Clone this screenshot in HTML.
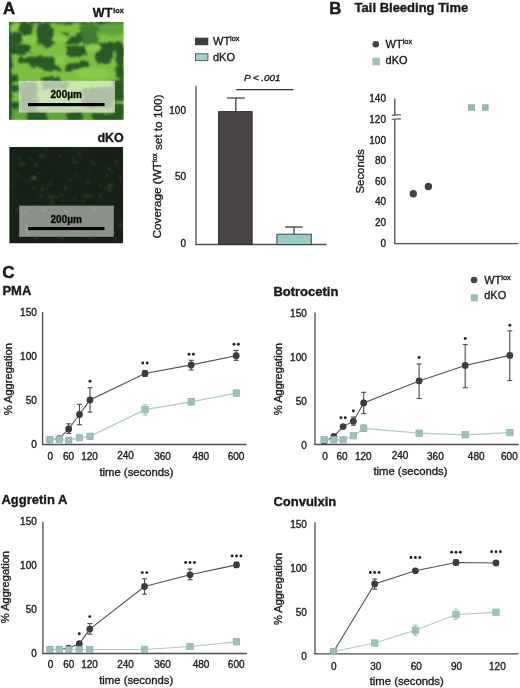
<!DOCTYPE html>
<html><head><meta charset="utf-8"><style>
html,body{margin:0;padding:0;background:#fff;overflow:hidden;width:520px;height:688px;}
svg{display:block;filter:blur(0.35px);}
text{font-family:"Liberation Sans", sans-serif;stroke:#1a1a1a;stroke-width:0.35px;}
</style></head><body>
<svg width="520" height="688" viewBox="0 0 520 688">
<rect width="520" height="688" fill="#fff"/>
<text x="2.9" y="13.6" font-size="16.8" font-weight="bold" text-anchor="start" fill="#1a1a1a" font-style="normal" style="stroke-width:0.45px">A</text>
<text x="112.3" y="16.7" font-size="12.5" font-weight="bold" text-anchor="end" fill="#1a1a1a">WT</text>
<text x="113.3" y="12.7" font-size="7.2" font-weight="bold" fill="#1a1a1a">lox</text>
<text x="123.8" y="142" font-size="12.5" font-weight="bold" text-anchor="end" fill="#1a1a1a" font-style="normal" >dKO</text>
<defs>
<filter id="bl" x="-20%" y="-20%" width="140%" height="140%"><feTurbulence type="fractalNoise" baseFrequency="0.22" numOctaves="2" seed="3" result="n"/><feDisplacementMap in="SourceGraphic" in2="n" scale="6" xChannelSelector="R" yChannelSelector="G" result="d"/><feGaussianBlur in="d" stdDeviation="0.9"/></filter>
<filter id="bl2" x="-20%" y="-20%" width="140%" height="140%"><feGaussianBlur stdDeviation="0.7"/></filter>
<filter id="bl3" x="-20%" y="-20%" width="140%" height="140%"><feGaussianBlur stdDeviation="1.1"/></filter>
<clipPath id="cwt"><rect x="9" y="21.8" width="114.6" height="97.9"/></clipPath>
<clipPath id="cko"><rect x="9.2" y="147" width="114" height="96.5"/></clipPath>
</defs>
<g clip-path="url(#cwt)">
<rect x="9" y="22" width="115" height="98" fill="#7bbf41"/>
<g filter="url(#bl)">
<g fill="#5ea43e">
<polygon points="79,22 124,22 124,35 100,35 79,33"/>
<polygon points="9,108 124,108 124,121 9,121"/>
</g>
<g fill="#2a5828">
<polygon points="7,22 12,22 12,121 7,121"/>
<polygon points="19,22 32,22 33,30 30,36 24,35 19,30"/>
<polygon points="10,32 18,31 23,35 22,43 14,44 10,42"/>
<polygon points="38,25 45,23 51,25 54,32 55,40 52,47 46,48 40,45 37,38 37,30"/>
<polygon points="9,44 20,44 31,45 31,52 24,55 15,55 9,54"/>
<polygon points="63,32 68,32 68,40 63,40"/>
<polygon points="66,40 74,36 84,31 87,35 86,43 76,44 68,44"/>
<polygon points="66,47 86,46 86,55 75,57 66,56"/>
<polygon points="96,42 124,42 124,51 98,51"/>
<polygon points="28,58 40,56 56,58 57,64 50,68 38,68 29,65"/>
<polygon points="66,65 75,63 88,61 88,66 78,69 66,71"/>
<polygon points="95,50 113,50 113,58 108,64 100,64 95,58"/>
<polygon points="116,50 124,50 124,80 117,78"/>
<polygon points="18,57 30,58 31,63 20,63"/>
<polygon points="42,65 60,66 62,71 44,71"/>
<polygon points="9,74 18,74 18,81 9,81"/>
<polygon points="9,85 19,85 19,91 9,91"/>
<polygon points="9,101 19,101 19,109 9,109"/>
<polygon points="112,80 124,80 124,101 112,101"/>
<polygon points="114,104 124,104 124,114 114,114"/>
<polygon points="27,112 47,112 47,122 27,122"/>
<polygon points="67,112 82,112 82,122 67,122"/>
<polygon points="92,113 124,114 124,122 92,122"/>
<polygon points="20,82 37,82 38,112 20,112"/>
<polygon points="42,82 68,82 68,89 42,89"/>
<polygon points="82,88 113,88 113,108 82,108"/>
<polygon points="42,77 60,77 60,81 42,81"/>
<polygon points="9,22 124,22 124,24 9,24"/>
</g>
<g fill="#3f7d35"><polygon points="80,26 92,25 99,28 99,38 96,44 88,44 82,40"/></g>
<g fill="#86cc4a">
<ellipse cx="15" cy="27" rx="4" ry="4"/>
<ellipse cx="30" cy="39" rx="7" ry="4"/>
<ellipse cx="60" cy="39" rx="8" ry="4"/>
<ellipse cx="94" cy="48" rx="7" ry="4"/>
<ellipse cx="60" cy="61" rx="5" ry="6"/>
<ellipse cx="92" cy="74" rx="18" ry="6"/>
</g>
</g>
<rect x="18.8" y="80.8" width="96.2" height="31.8" fill="#f8fbf0" fill-opacity="0.64"/>
</g>

<g clip-path="url(#cko)">
<rect x="9.2" y="147" width="114" height="96.5" fill="#172017"/>
<g filter="url(#bl3)" fill="#3a7a3a">
<circle cx="46.9" cy="187.5" r="0.9" fill-opacity="0.44"/>
<circle cx="51.6" cy="180.4" r="0.8" fill-opacity="0.40"/>
<circle cx="18.8" cy="176.2" r="1.5" fill-opacity="0.29"/>
<circle cx="35.8" cy="238.0" r="1.3" fill-opacity="0.39"/>
<circle cx="119.4" cy="197.9" r="1.0" fill-opacity="0.30"/>
<circle cx="24.1" cy="195.8" r="0.9" fill-opacity="0.45"/>
<circle cx="81.9" cy="182.4" r="0.9" fill-opacity="0.27"/>
<circle cx="33.9" cy="188.6" r="1.1" fill-opacity="0.45"/>
<circle cx="61.3" cy="194.7" r="1.4" fill-opacity="0.34"/>
<circle cx="74.8" cy="198.8" r="1.4" fill-opacity="0.35"/>
<circle cx="119.8" cy="175.9" r="1.4" fill-opacity="0.30"/>
<circle cx="65.3" cy="188.4" r="1.4" fill-opacity="0.45"/>
<circle cx="108.2" cy="189.8" r="1.3" fill-opacity="0.45"/>
<circle cx="61.6" cy="237.7" r="1.2" fill-opacity="0.48"/>
<circle cx="17.7" cy="209.5" r="1.6" fill-opacity="0.54"/>
<circle cx="42.6" cy="188.4" r="0.8" fill-opacity="0.41"/>
<circle cx="29.7" cy="157.9" r="1.4" fill-opacity="0.30"/>
<circle cx="38.5" cy="198.6" r="0.9" fill-opacity="0.41"/>
<circle cx="106.9" cy="175.8" r="1.1" fill-opacity="0.56"/>
<circle cx="117.3" cy="163.8" r="1.0" fill-opacity="0.33"/>
<circle cx="64.8" cy="168.1" r="0.8" fill-opacity="0.40"/>
<circle cx="52.0" cy="202.7" r="1.4" fill-opacity="0.43"/>
<circle cx="79.6" cy="153.1" r="1.5" fill-opacity="0.52"/>
<circle cx="108.1" cy="185.3" r="1.1" fill-opacity="0.29"/>
<circle cx="81.4" cy="158.4" r="1.0" fill-opacity="0.31"/>
<circle cx="48.7" cy="155.0" r="0.9" fill-opacity="0.29"/>
<circle cx="51.4" cy="198.7" r="1.3" fill-opacity="0.30"/>
<circle cx="39.0" cy="173.2" r="0.9" fill-opacity="0.55"/>
<circle cx="121.2" cy="179.2" r="0.9" fill-opacity="0.29"/>
<circle cx="49.0" cy="196.4" r="0.9" fill-opacity="0.26"/>
<circle cx="116.6" cy="162.3" r="1.2" fill-opacity="0.26"/>
<circle cx="88.3" cy="173.3" r="0.9" fill-opacity="0.52"/>
<circle cx="70.1" cy="179.3" r="1.0" fill-opacity="0.53"/>
<circle cx="120.3" cy="224.6" r="1.5" fill-opacity="0.51"/>
<circle cx="36.2" cy="172.8" r="0.8" fill-opacity="0.26"/>
<circle cx="42.0" cy="189.6" r="1.6" fill-opacity="0.41"/>
<circle cx="115.0" cy="238.7" r="1.1" fill-opacity="0.33"/>
<circle cx="36.2" cy="165.2" r="1.3" fill-opacity="0.57"/>
<circle cx="104.3" cy="187.6" r="1.4" fill-opacity="0.28"/>
<circle cx="94.3" cy="163.9" r="1.4" fill-opacity="0.37"/>
<circle cx="99.9" cy="185.6" r="1.1" fill-opacity="0.58"/>
<circle cx="91.5" cy="161.4" r="0.9" fill-opacity="0.57"/>
<circle cx="100.5" cy="196.3" r="1.6" fill-opacity="0.48"/>
<circle cx="49.9" cy="161.5" r="0.8" fill-opacity="0.59"/>
<circle cx="83.1" cy="201.7" r="1.1" fill-opacity="0.56"/>
<circle cx="102.7" cy="167.6" r="1.0" fill-opacity="0.33"/>
<circle cx="76.1" cy="176.0" r="0.9" fill-opacity="0.57"/>
<circle cx="50.3" cy="184.2" r="1.5" fill-opacity="0.40"/>
<circle cx="112.9" cy="181.6" r="1.2" fill-opacity="0.26"/>
<circle cx="59.9" cy="155.2" r="1.4" fill-opacity="0.31"/>
<circle cx="63.6" cy="200.9" r="1.1" fill-opacity="0.43"/>
<circle cx="72.7" cy="158.1" r="1.2" fill-opacity="0.34"/>
<circle cx="41.7" cy="196.2" r="1.2" fill-opacity="0.52"/>
<circle cx="112.3" cy="185.6" r="1.2" fill-opacity="0.43"/>
<circle cx="87.9" cy="181.7" r="1.2" fill-opacity="0.58"/>
<circle cx="88.6" cy="237.5" r="1.0" fill-opacity="0.45"/>
<circle cx="115.7" cy="161.0" r="0.9" fill-opacity="0.40"/>
<circle cx="19.1" cy="158.7" r="1.3" fill-opacity="0.52"/>
<circle cx="110.6" cy="190.8" r="1.3" fill-opacity="0.30"/>
<circle cx="109.0" cy="168.9" r="1.6" fill-opacity="0.39"/>
<circle cx="28.9" cy="180.8" r="1.1" fill-opacity="0.32"/>
<circle cx="46.4" cy="149.9" r="1.2" fill-opacity="0.40"/>
<circle cx="13.0" cy="186.2" r="1.2" fill-opacity="0.27"/>
<circle cx="120.3" cy="240.3" r="0.9" fill-opacity="0.34"/>
<circle cx="15.4" cy="173.7" r="0.9" fill-opacity="0.40"/>
<circle cx="112.2" cy="172.6" r="0.9" fill-opacity="0.57"/>
<ellipse cx="34" cy="178" rx="2.6" ry="2.0" fill-opacity="0.7"/><ellipse cx="22" cy="164" rx="4" ry="1.4" fill-opacity="0.35"/><ellipse cx="42" cy="156" rx="3.5" ry="1.3" fill-opacity="0.35"/><ellipse cx="88" cy="196" rx="5" ry="1.4" fill-opacity="0.35"/><ellipse cx="52" cy="197" rx="6" ry="1.3" fill-opacity="0.3"/><ellipse cx="110" cy="186" rx="2.5" ry="1.8" fill-opacity="0.4"/><ellipse cx="75" cy="162" rx="3" ry="1.2" fill-opacity="0.3"/>
</g>
<rect x="19.2" y="205.6" width="94.6" height="31.2" fill="#ffffff" fill-opacity="0.5"/>
<g filter="url(#bl3)" fill="#ffffff" fill-opacity="0.15">
<circle cx="72.9" cy="226.6" r="1.1"/><circle cx="26.2" cy="226.3" r="1.4"/><circle cx="27.6" cy="233.3" r="1.6"/><circle cx="93.9" cy="209.3" r="1.9"/><circle cx="27.1" cy="231.2" r="1.5"/><circle cx="51.9" cy="222.5" r="1.9"/><circle cx="45.4" cy="210.6" r="1.5"/><circle cx="42.7" cy="210.1" r="1.2"/><circle cx="25.6" cy="212.6" r="1.3"/><circle cx="48.8" cy="228.3" r="1.3"/><circle cx="66.5" cy="212.0" r="1.3"/><circle cx="22.7" cy="214.0" r="1.0"/>
</g>
</g>

<rect x="28" y="103" width="76.6" height="3.2" fill="#000"/>
<text x="66.2" y="98" font-size="10" font-weight="bold" text-anchor="middle" fill="#000">200µm</text>
<rect x="28.2" y="227" width="76.3" height="3.1" fill="#000"/>
<text x="66.2" y="223" font-size="10" font-weight="bold" text-anchor="middle" fill="#000">200µm</text>
<rect x="195.5" y="38.1" width="12.4" height="6.7" fill="#403c3c" stroke="#2b2b2b" stroke-width="0.8"/>
<text x="213" y="44.8" font-size="11" fill="#1a1a1a">WT<tspan font-size="7.3" dy="-4.0">lox</tspan></text>
<rect x="195.5" y="53.8" width="12.4" height="6.8" fill="#a3cfcd" stroke="#3d5a59" stroke-width="0.9"/>
<text x="213" y="60.8" font-size="11" font-weight="normal" text-anchor="start" fill="#1a1a1a" font-style="normal" >dKO</text>
<text x="244.0" y="81.4" font-size="9.8" font-weight="normal" text-anchor="start" fill="#1a1a1a" font-style="italic" >P &lt; .001</text>
<line x1="236.3" y1="89.6" x2="293.5" y2="89.6" stroke="#333" stroke-width="1.1"/>
<line x1="196" y1="86" x2="196" y2="245" stroke="#4d4d4d" stroke-width="1.3"/>
<line x1="195.4" y1="244.5" x2="326.5" y2="244.5" stroke="#4d4d4d" stroke-width="1.3"/>
<text x="186" y="113.6" font-size="10" font-weight="normal" text-anchor="end" fill="#1a1a1a" font-style="normal" >100</text>
<text x="186" y="180.4" font-size="10" font-weight="normal" text-anchor="end" fill="#1a1a1a" font-style="normal" >50</text>
<text x="186" y="247.29999999999998" font-size="10" font-weight="normal" text-anchor="end" fill="#1a1a1a" font-style="normal" >0</text>
<rect x="218.6" y="111.6" width="33.6" height="132.9" fill="#4a4545" stroke="#2a2a2a" stroke-width="0.9"/>
<line x1="235.8" y1="98" x2="235.8" y2="111.6" stroke="#333" stroke-width="1.2"/>
<line x1="226.70000000000002" y1="98" x2="244.9" y2="98" stroke="#333" stroke-width="1.2"/>
<rect x="276.9" y="234.2" width="34.4" height="10.3" fill="#9ccac8" stroke="#2f4a49" stroke-width="1"/>
<line x1="294" y1="227" x2="294" y2="234.2" stroke="#333" stroke-width="1.2"/>
<line x1="285.15" y1="227" x2="302.85" y2="227" stroke="#333" stroke-width="1.2"/>
<text x="0" y="0" font-size="11.75" text-anchor="middle" fill="#1a1a1a" transform="translate(156.6,166.5) rotate(-90)" dominant-baseline="central">Coverage (WT<tspan font-size="6.8" dy="-2.3">lox</tspan><tspan dy="2.3"> set to 100)</tspan></text>
<text x="329.3" y="13.6" font-size="16.8" font-weight="bold" text-anchor="start" fill="#1a1a1a" font-style="normal" style="stroke-width:0.45px">B</text>
<text x="354.6" y="11.9" font-size="13" font-weight="bold" text-anchor="start" fill="#1a1a1a" font-style="normal" >Tail Bleeding Time</text>
<circle cx="375.8" cy="44.2" r="3.3" fill="#444"/>
<text x="385.6" y="47.7" font-size="11" fill="#1a1a1a">WT<tspan font-size="7.3" dy="-4.0">lox</tspan></text>
<rect x="372.40" y="57.80" width="7.4" height="7.4" fill="#9bbfbe"/>
<text x="385.6" y="63.6" font-size="11" font-weight="normal" text-anchor="start" fill="#1a1a1a" font-style="normal" >dKO</text>
<line x1="394.8" y1="98.5" x2="394.8" y2="115.3" stroke="#4d4d4d" stroke-width="1.3"/>
<line x1="394.8" y1="118.9" x2="394.8" y2="244" stroke="#4d4d4d" stroke-width="1.3"/>
<line x1="391.8" y1="115.1" x2="401" y2="114.7" stroke="#4d4d4d" stroke-width="1.1"/>
<line x1="391.8" y1="119.3" x2="401" y2="118.9" stroke="#4d4d4d" stroke-width="1.1"/>
<line x1="394.2" y1="243.6" x2="518.3" y2="243.6" stroke="#4d4d4d" stroke-width="1.3"/>
<text x="386" y="246.6" font-size="10" font-weight="normal" text-anchor="end" fill="#1a1a1a" font-style="normal" >0</text>
<text x="386" y="226.0" font-size="10" font-weight="normal" text-anchor="end" fill="#1a1a1a" font-style="normal" >20</text>
<text x="386" y="205.4" font-size="10" font-weight="normal" text-anchor="end" fill="#1a1a1a" font-style="normal" >40</text>
<text x="386" y="184.8" font-size="10" font-weight="normal" text-anchor="end" fill="#1a1a1a" font-style="normal" >60</text>
<text x="386" y="164.2" font-size="10" font-weight="normal" text-anchor="end" fill="#1a1a1a" font-style="normal" >80</text>
<text x="386" y="143.6" font-size="10" font-weight="normal" text-anchor="end" fill="#1a1a1a" font-style="normal" >100</text>
<text x="386" y="123.0" font-size="10" font-weight="normal" text-anchor="end" fill="#1a1a1a" font-style="normal" >120</text>
<text x="386" y="102.4" font-size="10" font-weight="normal" text-anchor="end" fill="#1a1a1a" font-style="normal" >140</text>
<text x="0" y="0" font-size="11.4" text-anchor="middle" fill="#1a1a1a" transform="translate(359.8,171.4) rotate(-90)" dominant-baseline="central">Seconds</text>
<circle cx="413.3" cy="193.75" r="3.7" fill="#424242"/>
<circle cx="428.4" cy="186.5" r="3.7" fill="#424242"/>
<rect x="467.9" y="104.2" width="7.1" height="6.7" fill="#93bab9"/>
<rect x="481.9" y="104.2" width="6.8" height="6.7" fill="#93bab9"/>
<text x="2.3" y="278.0" font-size="17.2" font-weight="bold" text-anchor="start" fill="#1a1a1a" font-style="normal" style="stroke-width:0.45px">C</text>
<text x="2.4" y="295.4" font-size="13" font-weight="bold" text-anchor="start" fill="#1a1a1a" font-style="normal" >PMA</text>
<circle cx="474.1" cy="280" r="3.3" fill="#444"/>
<text x="484.2" y="283.7" font-size="11" fill="#1a1a1a">WT<tspan font-size="7.3" dy="-4.0">lox</tspan></text>
<rect x="470.80" y="294.30" width="7" height="7" fill="#9bbfbe"/>
<text x="484.2" y="299.4" font-size="11" font-weight="normal" text-anchor="start" fill="#1a1a1a" font-style="normal" >dKO</text>
<line x1="42.6" y1="312" x2="42.6" y2="445.1" stroke="#4d4d4d" stroke-width="1.3"/>
<line x1="42.0" y1="444.5" x2="246.5" y2="444.5" stroke="#4d4d4d" stroke-width="1.3"/>
<text x="36.8" y="448.1" font-size="10" font-weight="normal" text-anchor="end" fill="#1a1a1a" font-style="normal" >0</text>
<text x="36.8" y="404.1" font-size="10" font-weight="normal" text-anchor="end" fill="#1a1a1a" font-style="normal" >50</text>
<text x="36.8" y="360.1" font-size="10" font-weight="normal" text-anchor="end" fill="#1a1a1a" font-style="normal" >100</text>
<text x="36.8" y="316.1" font-size="10" font-weight="normal" text-anchor="end" fill="#1a1a1a" font-style="normal" >150</text>
<text x="50.3" y="459.9" font-size="10" font-weight="normal" text-anchor="middle" fill="#1a1a1a" font-style="normal" >0</text>
<text x="68.6" y="459.9" font-size="10" font-weight="normal" text-anchor="middle" fill="#1a1a1a" font-style="normal" >60</text>
<text x="89.5" y="459.9" font-size="10" font-weight="normal" text-anchor="middle" fill="#1a1a1a" font-style="normal" >120</text>
<text x="125.5" y="459.3" font-size="10" font-weight="normal" text-anchor="middle" fill="#1a1a1a" font-style="normal" >240</text>
<text x="162.5" y="459.9" font-size="10" font-weight="normal" text-anchor="middle" fill="#1a1a1a" font-style="normal" >360</text>
<text x="200.8" y="459.9" font-size="10" font-weight="normal" text-anchor="middle" fill="#1a1a1a" font-style="normal" >480</text>
<text x="236.0" y="459.9" font-size="10" font-weight="normal" text-anchor="middle" fill="#1a1a1a" font-style="normal" >600</text>
<text x="99.4" y="475.5" font-size="11.3" font-weight="normal" text-anchor="start" fill="#1a1a1a" font-style="normal" >time (seconds)</text>
<text x="0" y="0" font-size="11.1" text-anchor="middle" fill="#1a1a1a" transform="translate(7.8,379.2) rotate(-90)" dominant-baseline="central">% Aggregation</text>
<polyline points="49.9,439.8 59.2,438.6 68.7,429 79.5,414.5 90,400 145,373.5 191.2,364.9 236.2,355.7" fill="none" stroke="#505050" stroke-width="1.1"/>
<line x1="68.7" y1="423.8" x2="68.7" y2="433.4" stroke="#4a4a4a" stroke-width="1.1"/>
<line x1="66.2" y1="423.8" x2="71.2" y2="423.8" stroke="#4a4a4a" stroke-width="1.1"/>
<line x1="66.2" y1="433.4" x2="71.2" y2="433.4" stroke="#4a4a4a" stroke-width="1.1"/>
<line x1="79.5" y1="404.3" x2="79.5" y2="424.7" stroke="#4a4a4a" stroke-width="1.1"/>
<line x1="77.0" y1="404.3" x2="82.0" y2="404.3" stroke="#4a4a4a" stroke-width="1.1"/>
<line x1="77.0" y1="424.7" x2="82.0" y2="424.7" stroke="#4a4a4a" stroke-width="1.1"/>
<line x1="90" y1="387.7" x2="90" y2="412.1" stroke="#4a4a4a" stroke-width="1.1"/>
<line x1="87.5" y1="387.7" x2="92.5" y2="387.7" stroke="#4a4a4a" stroke-width="1.1"/>
<line x1="87.5" y1="412.1" x2="92.5" y2="412.1" stroke="#4a4a4a" stroke-width="1.1"/>
<line x1="145" y1="370.5" x2="145" y2="376.5" stroke="#4a4a4a" stroke-width="1.1"/>
<line x1="142.5" y1="370.5" x2="147.5" y2="370.5" stroke="#4a4a4a" stroke-width="1.1"/>
<line x1="142.5" y1="376.5" x2="147.5" y2="376.5" stroke="#4a4a4a" stroke-width="1.1"/>
<line x1="191.2" y1="360.3" x2="191.2" y2="370" stroke="#4a4a4a" stroke-width="1.1"/>
<line x1="188.7" y1="360.3" x2="193.7" y2="360.3" stroke="#4a4a4a" stroke-width="1.1"/>
<line x1="188.7" y1="370" x2="193.7" y2="370" stroke="#4a4a4a" stroke-width="1.1"/>
<line x1="236.2" y1="350.4" x2="236.2" y2="360.3" stroke="#4a4a4a" stroke-width="1.1"/>
<line x1="233.7" y1="350.4" x2="238.7" y2="350.4" stroke="#4a4a4a" stroke-width="1.1"/>
<line x1="233.7" y1="360.3" x2="238.7" y2="360.3" stroke="#4a4a4a" stroke-width="1.1"/>
<circle cx="49.9" cy="439.8" r="3.4" fill="#3c3c3c"/>
<circle cx="59.2" cy="438.6" r="3.4" fill="#3c3c3c"/>
<circle cx="68.7" cy="429" r="3.4" fill="#3c3c3c"/>
<circle cx="79.5" cy="414.5" r="3.4" fill="#3c3c3c"/>
<circle cx="90" cy="400" r="3.4" fill="#3c3c3c"/>
<circle cx="145" cy="373.5" r="3.4" fill="#3c3c3c"/>
<circle cx="191.2" cy="364.9" r="3.4" fill="#3c3c3c"/>
<circle cx="236.2" cy="355.7" r="3.4" fill="#3c3c3c"/>
<polyline points="49.9,439.5 59.2,439.4 68.7,440.3 79.5,437.7 90,436.3 145,409.7 191.2,401.8 236.4,393.1" fill="none" stroke="#aecbc7" stroke-width="1.2"/>
<line x1="145" y1="404.6" x2="145" y2="415" stroke="#a5c6c3" stroke-width="1.1"/>
<line x1="142.75" y1="404.6" x2="147.25" y2="404.6" stroke="#a5c6c3" stroke-width="1.1"/>
<line x1="142.75" y1="415" x2="147.25" y2="415" stroke="#a5c6c3" stroke-width="1.1"/>
<line x1="191.2" y1="398.5" x2="191.2" y2="405" stroke="#a5c6c3" stroke-width="1.1"/>
<line x1="188.95" y1="398.5" x2="193.45" y2="398.5" stroke="#a5c6c3" stroke-width="1.1"/>
<line x1="188.95" y1="405" x2="193.45" y2="405" stroke="#a5c6c3" stroke-width="1.1"/>
<line x1="236.4" y1="390" x2="236.4" y2="396" stroke="#a5c6c3" stroke-width="1.1"/>
<line x1="234.15" y1="390" x2="238.65" y2="390" stroke="#a5c6c3" stroke-width="1.1"/>
<line x1="234.15" y1="396" x2="238.65" y2="396" stroke="#a5c6c3" stroke-width="1.1"/>
<rect x="46.70" y="436.30" width="6.4" height="6.4" fill="#9dc0bd" stroke="#8db2af" stroke-width="0.7"/>
<rect x="56.00" y="436.20" width="6.4" height="6.4" fill="#9dc0bd" stroke="#8db2af" stroke-width="0.7"/>
<rect x="65.50" y="437.10" width="6.4" height="6.4" fill="#9dc0bd" stroke="#8db2af" stroke-width="0.7"/>
<rect x="76.30" y="434.50" width="6.4" height="6.4" fill="#9dc0bd" stroke="#8db2af" stroke-width="0.7"/>
<rect x="86.80" y="433.10" width="6.4" height="6.4" fill="#9dc0bd" stroke="#8db2af" stroke-width="0.7"/>
<rect x="141.80" y="406.50" width="6.4" height="6.4" fill="#9dc0bd" stroke="#8db2af" stroke-width="0.7"/>
<rect x="188.00" y="398.60" width="6.4" height="6.4" fill="#9dc0bd" stroke="#8db2af" stroke-width="0.7"/>
<rect x="233.20" y="389.90" width="6.4" height="6.4" fill="#9dc0bd" stroke="#8db2af" stroke-width="0.7"/>
<circle cx="90.00" cy="381.3" r="1.45" fill="#222"/>
<circle cx="142.80" cy="363" r="1.45" fill="#222"/>
<circle cx="147.20" cy="363" r="1.45" fill="#222"/>
<circle cx="189.00" cy="354.3" r="1.45" fill="#222"/>
<circle cx="193.40" cy="354.3" r="1.45" fill="#222"/>
<circle cx="234.00" cy="344.2" r="1.45" fill="#222"/>
<circle cx="238.40" cy="344.2" r="1.45" fill="#222"/>
<text x="273.4" y="295.6" font-size="13" font-weight="bold" text-anchor="start" fill="#1a1a1a" font-style="normal" >Botrocetin</text>
<line x1="315" y1="312.5" x2="315" y2="445.1" stroke="#4d4d4d" stroke-width="1.3"/>
<line x1="314.4" y1="444.5" x2="518.6" y2="444.5" stroke="#4d4d4d" stroke-width="1.3"/>
<text x="306.8" y="449.0" font-size="10" font-weight="normal" text-anchor="end" fill="#1a1a1a" font-style="normal" >0</text>
<text x="306.8" y="405.0" font-size="10" font-weight="normal" text-anchor="end" fill="#1a1a1a" font-style="normal" >50</text>
<text x="306.8" y="361.0" font-size="10" font-weight="normal" text-anchor="end" fill="#1a1a1a" font-style="normal" >100</text>
<text x="306.8" y="317.0" font-size="10" font-weight="normal" text-anchor="end" fill="#1a1a1a" font-style="normal" >150</text>
<text x="325.0" y="459.9" font-size="10" font-weight="normal" text-anchor="middle" fill="#1a1a1a" font-style="normal" >0</text>
<text x="342" y="459.9" font-size="10" font-weight="normal" text-anchor="middle" fill="#1a1a1a" font-style="normal" >60</text>
<text x="363.3" y="459.9" font-size="10" font-weight="normal" text-anchor="middle" fill="#1a1a1a" font-style="normal" >120</text>
<text x="400.0" y="459.1" font-size="10" font-weight="normal" text-anchor="middle" fill="#1a1a1a" font-style="normal" >240</text>
<text x="435.4" y="459.9" font-size="10" font-weight="normal" text-anchor="middle" fill="#1a1a1a" font-style="normal" >360</text>
<text x="476.2" y="459.9" font-size="10" font-weight="normal" text-anchor="middle" fill="#1a1a1a" font-style="normal" >480</text>
<text x="509.4" y="459.9" font-size="10" font-weight="normal" text-anchor="middle" fill="#1a1a1a" font-style="normal" >600</text>
<text x="373.4" y="475.1" font-size="11.3" font-weight="normal" text-anchor="start" fill="#1a1a1a" font-style="normal" >time (seconds)</text>
<text x="0" y="0" font-size="11.1" text-anchor="middle" fill="#1a1a1a" transform="translate(278.4,379.1) rotate(-90)" dominant-baseline="central">% Aggregation</text>
<polyline points="324.2,441.5 333.8,436.5 343.1,426.6 353.4,421.2 363.7,402.9 419.1,380.9 465.2,365.5 509.8,355.4" fill="none" stroke="#505050" stroke-width="1.1"/>
<line x1="353.4" y1="417" x2="353.4" y2="425.2" stroke="#4a4a4a" stroke-width="1.1"/>
<line x1="350.9" y1="417" x2="355.9" y2="417" stroke="#4a4a4a" stroke-width="1.1"/>
<line x1="350.9" y1="425.2" x2="355.9" y2="425.2" stroke="#4a4a4a" stroke-width="1.1"/>
<line x1="363.7" y1="392.3" x2="363.7" y2="413.6" stroke="#4a4a4a" stroke-width="1.1"/>
<line x1="361.2" y1="392.3" x2="366.2" y2="392.3" stroke="#4a4a4a" stroke-width="1.1"/>
<line x1="361.2" y1="413.6" x2="366.2" y2="413.6" stroke="#4a4a4a" stroke-width="1.1"/>
<line x1="419.1" y1="364" x2="419.1" y2="398.5" stroke="#4a4a4a" stroke-width="1.1"/>
<line x1="416.6" y1="364" x2="421.6" y2="364" stroke="#4a4a4a" stroke-width="1.1"/>
<line x1="416.6" y1="398.5" x2="421.6" y2="398.5" stroke="#4a4a4a" stroke-width="1.1"/>
<line x1="465.2" y1="344.6" x2="465.2" y2="387.7" stroke="#4a4a4a" stroke-width="1.1"/>
<line x1="462.7" y1="344.6" x2="467.7" y2="344.6" stroke="#4a4a4a" stroke-width="1.1"/>
<line x1="462.7" y1="387.7" x2="467.7" y2="387.7" stroke="#4a4a4a" stroke-width="1.1"/>
<line x1="509.8" y1="330.8" x2="509.8" y2="380.6" stroke="#4a4a4a" stroke-width="1.1"/>
<line x1="507.3" y1="330.8" x2="512.3" y2="330.8" stroke="#4a4a4a" stroke-width="1.1"/>
<line x1="507.3" y1="380.6" x2="512.3" y2="380.6" stroke="#4a4a4a" stroke-width="1.1"/>
<circle cx="324.2" cy="441.5" r="3.4" fill="#3c3c3c"/>
<circle cx="333.8" cy="436.5" r="3.4" fill="#3c3c3c"/>
<circle cx="343.1" cy="426.6" r="3.4" fill="#3c3c3c"/>
<circle cx="353.4" cy="421.2" r="3.4" fill="#3c3c3c"/>
<circle cx="363.7" cy="402.9" r="3.4" fill="#3c3c3c"/>
<circle cx="419.1" cy="380.9" r="3.4" fill="#3c3c3c"/>
<circle cx="465.2" cy="365.5" r="3.4" fill="#3c3c3c"/>
<circle cx="509.8" cy="355.4" r="3.4" fill="#3c3c3c"/>
<polyline points="324.2,439.8 333.8,439.8 343.1,439.8 353.4,435.7 363.7,428.4 419.1,433.2 465.2,434.8 509.9,432.6" fill="none" stroke="#aecbc7" stroke-width="1.2"/>
<line x1="363.7" y1="424.7" x2="363.7" y2="431" stroke="#a5c6c3" stroke-width="1.1"/>
<line x1="361.45" y1="424.7" x2="365.95" y2="424.7" stroke="#a5c6c3" stroke-width="1.1"/>
<line x1="361.45" y1="431" x2="365.95" y2="431" stroke="#a5c6c3" stroke-width="1.1"/>
<rect x="321.00" y="436.60" width="6.4" height="6.4" fill="#9dc0bd" stroke="#8db2af" stroke-width="0.7"/>
<rect x="330.60" y="436.60" width="6.4" height="6.4" fill="#9dc0bd" stroke="#8db2af" stroke-width="0.7"/>
<rect x="339.90" y="436.60" width="6.4" height="6.4" fill="#9dc0bd" stroke="#8db2af" stroke-width="0.7"/>
<rect x="350.20" y="432.50" width="6.4" height="6.4" fill="#9dc0bd" stroke="#8db2af" stroke-width="0.7"/>
<rect x="360.50" y="425.20" width="6.4" height="6.4" fill="#9dc0bd" stroke="#8db2af" stroke-width="0.7"/>
<rect x="415.90" y="430.00" width="6.4" height="6.4" fill="#9dc0bd" stroke="#8db2af" stroke-width="0.7"/>
<rect x="462.00" y="431.60" width="6.4" height="6.4" fill="#9dc0bd" stroke="#8db2af" stroke-width="0.7"/>
<rect x="506.70" y="429.40" width="6.4" height="6.4" fill="#9dc0bd" stroke="#8db2af" stroke-width="0.7"/>
<circle cx="340.90" cy="417.7" r="1.45" fill="#222"/>
<circle cx="345.30" cy="417.7" r="1.45" fill="#222"/>
<circle cx="353.40" cy="411" r="1.45" fill="#222"/>
<circle cx="419.10" cy="357.5" r="1.45" fill="#222"/>
<circle cx="465.20" cy="338.5" r="1.45" fill="#222"/>
<circle cx="509.80" cy="325.2" r="1.45" fill="#222"/>
<text x="1.4" y="504.2" font-size="13" font-weight="bold" text-anchor="start" fill="#1a1a1a" font-style="normal" >Aggretin A</text>
<line x1="42.9" y1="521.7" x2="42.9" y2="654.1" stroke="#4d4d4d" stroke-width="1.3"/>
<line x1="42.3" y1="653.5" x2="247" y2="653.5" stroke="#4d4d4d" stroke-width="1.3"/>
<text x="36.8" y="657.1" font-size="10" font-weight="normal" text-anchor="end" fill="#1a1a1a" font-style="normal" >0</text>
<text x="36.8" y="613.1" font-size="10" font-weight="normal" text-anchor="end" fill="#1a1a1a" font-style="normal" >50</text>
<text x="36.8" y="569.1" font-size="10" font-weight="normal" text-anchor="end" fill="#1a1a1a" font-style="normal" >100</text>
<text x="36.8" y="525.1" font-size="10" font-weight="normal" text-anchor="end" fill="#1a1a1a" font-style="normal" >150</text>
<text x="50.5" y="668.3" font-size="10" font-weight="normal" text-anchor="middle" fill="#1a1a1a" font-style="normal" >0</text>
<text x="68.8" y="668.3" font-size="10" font-weight="normal" text-anchor="middle" fill="#1a1a1a" font-style="normal" >60</text>
<text x="89.6" y="668.3" font-size="10" font-weight="normal" text-anchor="middle" fill="#1a1a1a" font-style="normal" >120</text>
<text x="125.6" y="667.7" font-size="10" font-weight="normal" text-anchor="middle" fill="#1a1a1a" font-style="normal" >240</text>
<text x="162.5" y="668.3" font-size="10" font-weight="normal" text-anchor="middle" fill="#1a1a1a" font-style="normal" >360</text>
<text x="201.0" y="668.3" font-size="10" font-weight="normal" text-anchor="middle" fill="#1a1a1a" font-style="normal" >480</text>
<text x="236.2" y="668.3" font-size="10" font-weight="normal" text-anchor="middle" fill="#1a1a1a" font-style="normal" >600</text>
<text x="99.2" y="684.3" font-size="11.3" font-weight="normal" text-anchor="start" fill="#1a1a1a" font-style="normal" >time (seconds)</text>
<text x="0" y="0" font-size="11.1" text-anchor="middle" fill="#1a1a1a" transform="translate(5.4,587.1) rotate(-90)" dominant-baseline="central">% Aggregation</text>
<polyline points="49.9,649.5 59.2,649.3 68.7,648.2 79.3,643.7 89.8,629.1 144.5,586.5 190,574.8 236.5,564.9" fill="none" stroke="#505050" stroke-width="1.1"/>
<line x1="89.8" y1="623.6" x2="89.8" y2="634.1" stroke="#4a4a4a" stroke-width="1.1"/>
<line x1="87.3" y1="623.6" x2="92.3" y2="623.6" stroke="#4a4a4a" stroke-width="1.1"/>
<line x1="87.3" y1="634.1" x2="92.3" y2="634.1" stroke="#4a4a4a" stroke-width="1.1"/>
<line x1="144.5" y1="578.8" x2="144.5" y2="594.2" stroke="#4a4a4a" stroke-width="1.1"/>
<line x1="142.0" y1="578.8" x2="147.0" y2="578.8" stroke="#4a4a4a" stroke-width="1.1"/>
<line x1="142.0" y1="594.2" x2="147.0" y2="594.2" stroke="#4a4a4a" stroke-width="1.1"/>
<line x1="190" y1="569" x2="190" y2="579.7" stroke="#4a4a4a" stroke-width="1.1"/>
<line x1="187.5" y1="569" x2="192.5" y2="569" stroke="#4a4a4a" stroke-width="1.1"/>
<line x1="187.5" y1="579.7" x2="192.5" y2="579.7" stroke="#4a4a4a" stroke-width="1.1"/>
<line x1="236.5" y1="562.3" x2="236.5" y2="567.3" stroke="#4a4a4a" stroke-width="1.1"/>
<line x1="234.0" y1="562.3" x2="239.0" y2="562.3" stroke="#4a4a4a" stroke-width="1.1"/>
<line x1="234.0" y1="567.3" x2="239.0" y2="567.3" stroke="#4a4a4a" stroke-width="1.1"/>
<circle cx="49.9" cy="649.5" r="3.4" fill="#3c3c3c"/>
<circle cx="59.2" cy="649.3" r="3.4" fill="#3c3c3c"/>
<circle cx="68.7" cy="648.2" r="3.4" fill="#3c3c3c"/>
<circle cx="79.3" cy="643.7" r="3.4" fill="#3c3c3c"/>
<circle cx="89.8" cy="629.1" r="3.4" fill="#3c3c3c"/>
<circle cx="144.5" cy="586.5" r="3.4" fill="#3c3c3c"/>
<circle cx="190" cy="574.8" r="3.4" fill="#3c3c3c"/>
<circle cx="236.5" cy="564.9" r="3.4" fill="#3c3c3c"/>
<polyline points="49.9,649.5 59.2,649.5 68.7,649.5 79.3,649.5 89.8,649.5 144.5,649.5 190,646.5 236.5,641.8" fill="none" stroke="#aecbc7" stroke-width="1.2"/>
<rect x="46.70" y="646.30" width="6.4" height="6.4" fill="#9dc0bd" stroke="#8db2af" stroke-width="0.7"/>
<rect x="56.00" y="646.30" width="6.4" height="6.4" fill="#9dc0bd" stroke="#8db2af" stroke-width="0.7"/>
<rect x="65.50" y="646.30" width="6.4" height="6.4" fill="#9dc0bd" stroke="#8db2af" stroke-width="0.7"/>
<rect x="76.10" y="646.30" width="6.4" height="6.4" fill="#9dc0bd" stroke="#8db2af" stroke-width="0.7"/>
<rect x="86.60" y="646.30" width="6.4" height="6.4" fill="#9dc0bd" stroke="#8db2af" stroke-width="0.7"/>
<rect x="141.30" y="646.30" width="6.4" height="6.4" fill="#9dc0bd" stroke="#8db2af" stroke-width="0.7"/>
<rect x="186.80" y="643.30" width="6.4" height="6.4" fill="#9dc0bd" stroke="#8db2af" stroke-width="0.7"/>
<rect x="233.30" y="638.60" width="6.4" height="6.4" fill="#9dc0bd" stroke="#8db2af" stroke-width="0.7"/>
<circle cx="79.30" cy="633.7" r="1.45" fill="#222"/>
<circle cx="89.80" cy="616.6" r="1.45" fill="#222"/>
<circle cx="142.30" cy="572.6" r="1.45" fill="#222"/>
<circle cx="146.70" cy="572.6" r="1.45" fill="#222"/>
<circle cx="185.60" cy="562.5" r="1.45" fill="#222"/>
<circle cx="190.00" cy="562.5" r="1.45" fill="#222"/>
<circle cx="194.40" cy="562.5" r="1.45" fill="#222"/>
<circle cx="232.10" cy="555.9" r="1.45" fill="#222"/>
<circle cx="236.50" cy="555.9" r="1.45" fill="#222"/>
<circle cx="240.90" cy="555.9" r="1.45" fill="#222"/>
<text x="273.4" y="505.7" font-size="13" font-weight="bold" text-anchor="start" fill="#1a1a1a" font-style="normal" >Convulxin</text>
<line x1="315" y1="522.3" x2="315" y2="654.4" stroke="#4d4d4d" stroke-width="1.3"/>
<line x1="314.4" y1="653.8" x2="518.5" y2="653.8" stroke="#4d4d4d" stroke-width="1.3"/>
<text x="306.9" y="659.6" font-size="10" font-weight="normal" text-anchor="end" fill="#1a1a1a" font-style="normal" >0</text>
<text x="306.9" y="615.6" font-size="10" font-weight="normal" text-anchor="end" fill="#1a1a1a" font-style="normal" >50</text>
<text x="306.9" y="571.6" font-size="10" font-weight="normal" text-anchor="end" fill="#1a1a1a" font-style="normal" >100</text>
<text x="306.9" y="527.6" font-size="10" font-weight="normal" text-anchor="end" fill="#1a1a1a" font-style="normal" >150</text>
<text x="333.9" y="669.6" font-size="10" font-weight="normal" text-anchor="middle" fill="#1a1a1a" font-style="normal" >0</text>
<text x="375.7" y="669.6" font-size="10" font-weight="normal" text-anchor="middle" fill="#1a1a1a" font-style="normal" >30</text>
<text x="416.3" y="669.6" font-size="10" font-weight="normal" text-anchor="middle" fill="#1a1a1a" font-style="normal" >60</text>
<text x="456.6" y="669.6" font-size="10" font-weight="normal" text-anchor="middle" fill="#1a1a1a" font-style="normal" >90</text>
<text x="497.4" y="669.6" font-size="10" font-weight="normal" text-anchor="middle" fill="#1a1a1a" font-style="normal" >120</text>
<text x="369.7" y="684.7" font-size="11.3" font-weight="normal" text-anchor="start" fill="#1a1a1a" font-style="normal" >time (seconds)</text>
<text x="0" y="0" font-size="11.1" text-anchor="middle" fill="#1a1a1a" transform="translate(278.2,589.0) rotate(-90)" dominant-baseline="central">% Aggregation</text>
<polyline points="333.5,651.7 374.7,583.9 415.4,570.8 456,562.5 496,563" fill="none" stroke="#505050" stroke-width="1.1"/>
<line x1="374.7" y1="579" x2="374.7" y2="589.2" stroke="#4a4a4a" stroke-width="1.1"/>
<line x1="372.2" y1="579" x2="377.2" y2="579" stroke="#4a4a4a" stroke-width="1.1"/>
<line x1="372.2" y1="589.2" x2="377.2" y2="589.2" stroke="#4a4a4a" stroke-width="1.1"/>
<line x1="456" y1="560" x2="456" y2="565" stroke="#4a4a4a" stroke-width="1.1"/>
<line x1="453.5" y1="560" x2="458.5" y2="560" stroke="#4a4a4a" stroke-width="1.1"/>
<line x1="453.5" y1="565" x2="458.5" y2="565" stroke="#4a4a4a" stroke-width="1.1"/>
<circle cx="333.5" cy="651.7" r="3.4" fill="#3c3c3c"/>
<circle cx="374.7" cy="583.9" r="3.4" fill="#3c3c3c"/>
<circle cx="415.4" cy="570.8" r="3.4" fill="#3c3c3c"/>
<circle cx="456" cy="562.5" r="3.4" fill="#3c3c3c"/>
<circle cx="496" cy="563" r="3.4" fill="#3c3c3c"/>
<polyline points="333.5,651.5 374.7,643 415.4,630.2 456,614.5 496,612.3" fill="none" stroke="#aecbc7" stroke-width="1.2"/>
<line x1="415.4" y1="625.2" x2="415.4" y2="635.4" stroke="#a5c6c3" stroke-width="1.1"/>
<line x1="413.15" y1="625.2" x2="417.65" y2="625.2" stroke="#a5c6c3" stroke-width="1.1"/>
<line x1="413.15" y1="635.4" x2="417.65" y2="635.4" stroke="#a5c6c3" stroke-width="1.1"/>
<line x1="456" y1="609.2" x2="456" y2="619.4" stroke="#a5c6c3" stroke-width="1.1"/>
<line x1="453.75" y1="609.2" x2="458.25" y2="609.2" stroke="#a5c6c3" stroke-width="1.1"/>
<line x1="453.75" y1="619.4" x2="458.25" y2="619.4" stroke="#a5c6c3" stroke-width="1.1"/>
<rect x="330.30" y="648.30" width="6.4" height="6.4" fill="#9dc0bd" stroke="#8db2af" stroke-width="0.7"/>
<rect x="371.50" y="639.80" width="6.4" height="6.4" fill="#9dc0bd" stroke="#8db2af" stroke-width="0.7"/>
<rect x="412.20" y="627.00" width="6.4" height="6.4" fill="#9dc0bd" stroke="#8db2af" stroke-width="0.7"/>
<rect x="452.80" y="611.30" width="6.4" height="6.4" fill="#9dc0bd" stroke="#8db2af" stroke-width="0.7"/>
<rect x="492.80" y="609.10" width="6.4" height="6.4" fill="#9dc0bd" stroke="#8db2af" stroke-width="0.7"/>
<circle cx="370.30" cy="572.5" r="1.45" fill="#222"/>
<circle cx="374.70" cy="572.5" r="1.45" fill="#222"/>
<circle cx="379.10" cy="572.5" r="1.45" fill="#222"/>
<circle cx="411.00" cy="557.5" r="1.45" fill="#222"/>
<circle cx="415.40" cy="557.5" r="1.45" fill="#222"/>
<circle cx="419.80" cy="557.5" r="1.45" fill="#222"/>
<circle cx="451.60" cy="552.3" r="1.45" fill="#222"/>
<circle cx="456.00" cy="552.3" r="1.45" fill="#222"/>
<circle cx="460.40" cy="552.3" r="1.45" fill="#222"/>
<circle cx="491.60" cy="551.7" r="1.45" fill="#222"/>
<circle cx="496.00" cy="551.7" r="1.45" fill="#222"/>
<circle cx="500.40" cy="551.7" r="1.45" fill="#222"/>
</svg>
</body></html>
